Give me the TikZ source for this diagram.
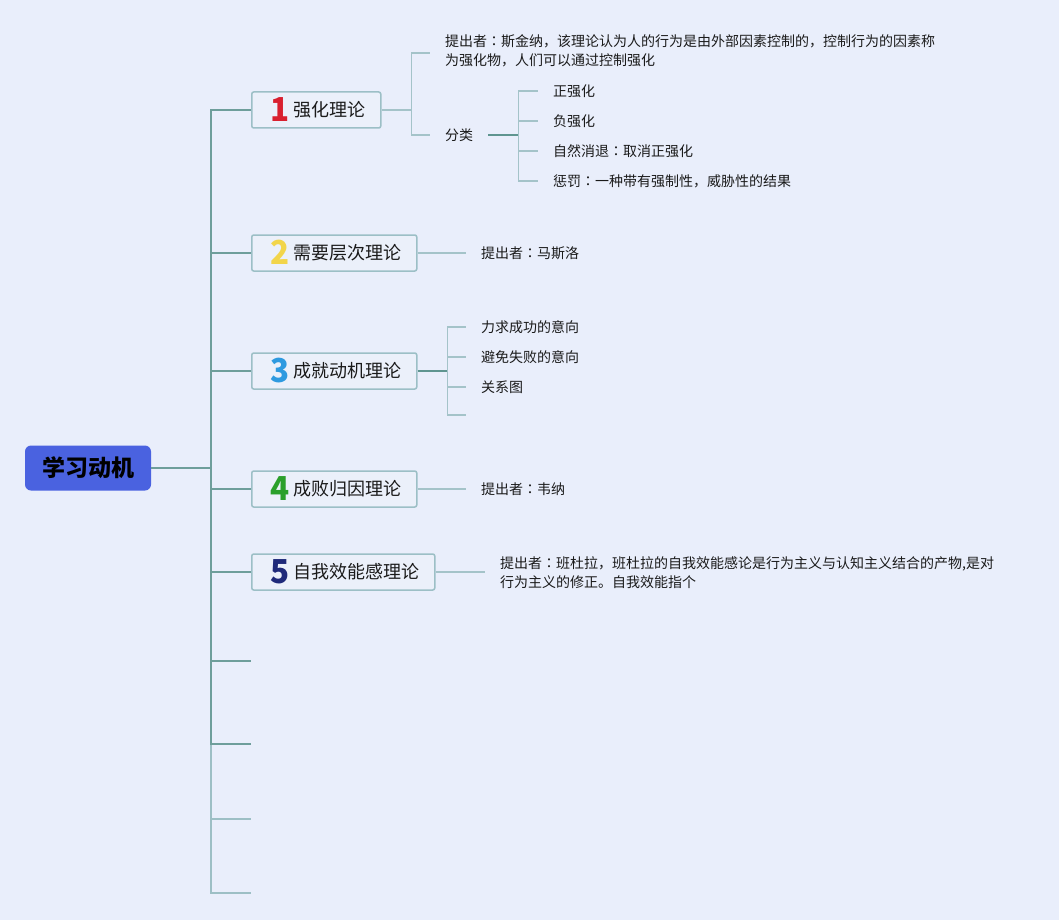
\documentclass[tikz,border=0pt]{standalone}
\usepackage{fontspec}
\setmainfont{Noto Sans CJK SC}
\newfontfamily\jpfont{Noto Sans CJK JP}
\definecolor{bg}{HTML}{E9EEFB}
\definecolor{boxfill}{HTML}{EBF0FA}
\definecolor{boxline}{HTML}{9CBFC6}
\definecolor{rootfill}{HTML}{4A62E0}
\definecolor{trunk}{HTML}{6E9E9B}
\definecolor{trunklight}{HTML}{9DBFC5}
\definecolor{subline}{HTML}{A4C3C9}
\definecolor{subdark}{HTML}{5F9590}
\definecolor{txt}{HTML}{1A1A1A}
\definecolor{n1}{HTML}{D9202F}
\definecolor{n2}{HTML}{F2D54A}
\definecolor{n3}{HTML}{2E9AE0}
\definecolor{n4}{HTML}{2BA02B}
\definecolor{n5}{HTML}{1F2A7A}
\newcommand{\cc}{{\jpfont ：}}
\newcommand{\numglyph}[2]{\makebox[17pt]{\raisebox{-4.5pt}[0pt][0pt]{\scalebox{0.95}[1]{\fontsize{33}{33}\selectfont\bfseries\color{#1}#2}}}}
\newcommand{\brlabel}[3]{\hspace*{20pt}\numglyph{#1}{#2}\hspace*{5pt}#3\hspace*{15pt}}
\begin{document}
\begin{tikzpicture}[x=1pt,y=-1pt,
  rootbox/.style={fill=rootfill, rounded corners=6pt, minimum width=126pt, minimum height=45pt, inner sep=0pt, font=\fontsize{23}{23}\selectfont\bfseries, text=black},
  brbox/.style={draw=boxline, line width=1.5pt, fill=boxfill, rounded corners=2pt, minimum height=36pt, inner xsep=0pt, inner ysep=0pt, anchor=west, font=\fontsize{18}{18}\selectfont, text=txt},
  leaf/.style={anchor=west, inner xsep=15pt, inner ysep=2pt, font=\fontsize{14}{19}\selectfont, text=txt, align=left},
  conn/.style={draw=trunk, line width=1.6pt},
  connl/.style={draw=trunklight, line width=1.6pt},
  sub/.style={draw=subline, line width=1.4pt},
  subd/.style={draw=subdark, line width=1.4pt}
]
\fill[bg] (0,0) rectangle (1059,920);
\useasboundingbox (0,0) rectangle (1059,920);

% root
\node[rootbox] (root) at (88,468) {学习动机};

% branch boxes
\node[brbox] (b1) at (251,110) {\brlabel{n1}{1}{强化理论}};
\node[brbox] (b2) at (251,253) {\brlabel{n2}{2}{需要层次理论}};
\node[brbox] (b3) at (251,371) {\brlabel{n3}{3}{成就动机理论}};
\node[brbox] (b4) at (251,489) {\brlabel{n4}{4}{成败归因理论}};
\node[brbox] (b5) at (251,572) {\brlabel{n5}{5}{自我效能感理论}};
\coordinate (e6) at (251,661);
\coordinate (e7) at (251,744);
\coordinate (e8) at (251,819);
\coordinate (e9) at (251,893);

% trunk connectors (bottom first, lighter)
\coordinate (tr) at ([xshift=60pt]root.east);
\draw[connl] (tr) |- (e9);
\draw[connl] (tr) |- (e8);
\draw[conn] (tr) |- (e7);
\draw[conn] (tr) |- (e6);
\draw[conn] (tr) |- (b5.west);
\draw[conn] (tr) |- (b4.west);
\draw[conn] (tr) |- (b3.west);
\draw[conn] (tr) |- (b2.west);
\draw[conn] (tr) |- (b1.west);
\draw[conn] (root.east) -- (tr);

% branch 1 leaves
\node[leaf] (t11) at (430,51) {提出者\cc 斯金纳，该理论认为人的行为是由外部因素控制的，控制行为的因素称\\为强化物，人们可以通过控制强化};
\node[leaf] (t12) at (430,135) {分类};
\draw[sub] (b1.east) -- ++(30,0) coordinate (j1);
\draw[sub] (j1) |- ([yshift=-2pt]t11.west);
\draw[sub] (j1) |- (t12.west);

\node[leaf] (c1) at (538,91) {正强化};
\node[leaf] (c2) at (538,121) {负强化};
\node[leaf] (c3) at (538,151) {自然消退\cc 取消正强化};
\node[leaf] (c4) at (538,181) {惩罚\cc 一种带有强制性，威胁性的结果};
\draw[subd] (t12.east) -- ++(30,0) coordinate (j12);
\draw[sub] (j12) |- (c1.west);
\draw[sub] (j12) |- (c2.west);
\draw[sub] (j12) |- (c3.west);
\draw[sub] (j12) |- (c4.west);

% branch 2
\node[leaf] (t21) at (466,253) {提出者\cc 马斯洛};
\draw[sub] (b2.east) -- (t21.west);

% branch 3
\node[leaf] (t31) at (466,327) {力求成功的意向};
\node[leaf] (t32) at (466,357) {避免失败的意向};
\node[leaf] (t33) at (466,387) {关系图};
\coordinate (t34) at (466,415);
\draw[subd] (b3.east) -- ++(30,0) coordinate (j3);
\draw[sub] (j3) |- (t31.west);
\draw[sub] (j3) |- (t32.west);
\draw[sub] (j3) |- (t33.west);
\draw[sub] (j3) |- (t34);

% branch 4
\node[leaf] (t41) at (466,489) {提出者\cc 韦纳};
\draw[sub] (b4.east) -- (t41.west);

% branch 5
\node[leaf] (t51) at (485,573) {提出者\cc 班杜拉，班杜拉的自我效能感论是行为主义与认知主义结合的产物,是对\\行为主义的修正。自我效能指个};
\draw[sub] (b5.east) -- (b5.east -| t51.west);
\end{tikzpicture}
\end{document}
